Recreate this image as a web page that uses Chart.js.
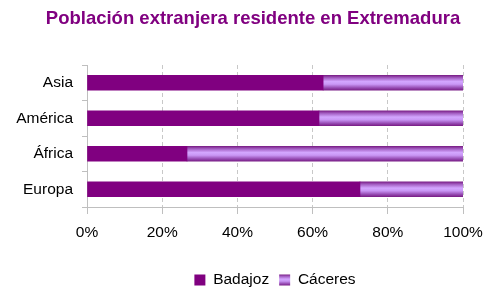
<!DOCTYPE html>
<html><head><meta charset="utf-8">
<script src="https://cdn.jsdelivr.net/npm/chart.js@4/dist/chart.umd.min.js"></script>
<style>html,body{margin:0;padding:0;background:#fff}#wrap{width:494px;height:291px}</style>
</head><body><div id="wrap"><canvas id="c" width="494" height="291"></canvas></div>
<script>
const categories = ['Asia', 'América', 'África', 'Europa'];
const badajoz = [62.8, 61.7, 26.6, 72.6];
const caceres = [37.2, 38.3, 73.4, 27.4];
const seriesNames = ['Badajoz', 'Cáceres'];
const xTicks = [0, 20, 40, 60, 80, 100];
const titleText = 'Población extranjera residente en Extremadura';

const FAMILY = "'Liberation Sans', Arial, sans-serif";
const FS = 15.5;
const BAR = 15;

function lilacGradient(ctx2d, top, bottom) {
  const g = ctx2d.createLinearGradient(0, top, 0, bottom);
  g.addColorStop(0, '#7a1f87');
  g.addColorStop(0.18, '#a560c4');
  g.addColorStop(0.42, '#d3a6ff');
  g.addColorStop(0.6, '#c996f5');
  g.addColorStop(0.85, '#9448b0');
  g.addColorStop(1, '#7a1f87');
  return g;
}

const legendGrad = {
  id: 'legendGrad',
  beforeDraw(chart) {
    const lg = chart.legend;
    if (!lg || !lg.legendHitBoxes || !lg.legendItems) return;
    const hb = lg.legendHitBoxes[1], it = lg.legendItems[1];
    if (!hb || !it) return;
    const top = hb.top + (hb.height - 11) / 2;
    it.fillStyle = lilacGradient(chart.ctx, top, top + 11);
  }
};

new Chart(document.getElementById('c'), {
  type: 'bar',
  data: {
    labels: categories,
    datasets: [
      { label: seriesNames[0], data: badajoz, backgroundColor: '#800080', borderWidth: 0, barThickness: BAR, yAxisID: 'y' },
      { label: seriesNames[1], data: caceres, borderWidth: 0, barThickness: BAR, yAxisID: 'y',
        backgroundColor(c) {
          const ch = c.chart, ys = ch.scales && ch.scales.y;
          if (c.type !== 'data' || !ys) return '#b57edc';
          const yc = ys.getPixelForValue(c.dataIndex);
          return lilacGradient(ch.ctx, yc - BAR / 2, yc + BAR / 2);
        } }
    ]
  },
  plugins: [legendGrad],
  options: {
    indexAxis: 'y',
    responsive: false,
    animation: false,
    layout: { padding: { left: 0, right: -12, top: 0, bottom: -6.75 } },
    plugins: {
      title: { display: true, text: titleText, color: '#800080',
        font: { family: FAMILY, size: 18.5, weight: 'bold' }, padding: { top: 8, bottom: 34.8 } },
      legend: { position: 'bottom', fullSize: false,
        labels: { boxWidth: 11, boxHeight: 11, padding: 10, color: '#000', font: { family: FAMILY, size: FS } } },
      tooltip: { enabled: false }
    },
    scales: {
      x: {
        stacked: true, min: 0, max: 100,
        afterBuildTicks: s => { s.ticks = xTicks.map(v => ({ value: v })); },
        ticks: { callback: v => v + '%', padding: 9, color: '#000', maxRotation: 0, font: { family: FAMILY, size: FS } },
        grid: { color: '#c8c8c8', tickColor: '#bfbfbf', tickLength: 7, lineWidth: 1 },
        border: { color: '#bfbfbf', dash: [4, 3] },
        afterFit: s => { s.height = 55.25; }
      },
      y: {
        stacked: true, position: 'left',
        ticks: { padding: 9, color: '#000', font: { family: FAMILY, size: FS } },
        grid: { offset: true, drawOnChartArea: false, tickLength: 5, tickColor: '#bfbfbf' },
        border: { color: '#bfbfbf' },
        afterFit: s => { s.width = 87; }
      },
      y2: {
        type: 'category', position: 'right', display: true,
        grid: { display: false, drawTicks: false },
        ticks: { display: false },
        border: { display: false },
        afterFit: s => { s.width = 43; }
      }
    }
  }
});
</script>
</body></html>
